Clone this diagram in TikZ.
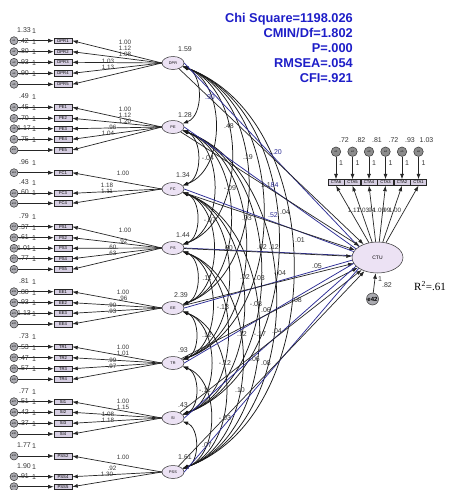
\documentclass[tikz,border=0pt]{standalone}
\usepackage{fontspec}
\setmainfont{Liberation Serif}
\setsansfont{Liberation Sans}
\usetikzlibrary{arrows.meta,shapes.geometric,calc}
\definecolor{fitblue}{RGB}{30,30,200}
\definecolor{pathblue}{RGB}{45,45,150}
\definecolor{latfill}{RGB}{236,226,244}
\definecolor{boxfill}{RGB}{214,206,226}
\definecolor{errfill}{RGB}{170,170,176}
\definecolor{numgray}{RGB}{55,55,55}
\begin{document}
\begin{tikzpicture}[x=1pt,y=-1pt,
 lat/.style={ellipse, draw=black!80, line width=0.5pt, fill=latfill, minimum width=22pt, minimum height=13pt, inner sep=0pt, font=\sffamily\fontsize{3.8}{4}\selectfont},
 obs/.style={rectangle, draw=black!85, line width=0.55pt, fill=boxfill, minimum width=18pt, minimum height=5.8pt, inner sep=0pt, font=\sffamily\fontsize{4.2}{4.2}\selectfont},
 ctaobs/.style={obs, minimum width=16pt},
 err/.style={circle, draw=black!80, line width=0.5pt, fill=errfill, minimum size=8pt, inner sep=0pt, font=\sffamily\fontsize{2.5}{2.5}\selectfont},
 arr/.style={-{Latex[length=5.5pt,width=4pt]}, line width=0.7pt, black!85},
 cov/.style={{Latex[length=5.5pt,width=4pt]}-{Latex[length=5.5pt,width=4pt]}, line width=0.75pt, black!90},
 bluepath/.style={line width=0.75pt, draw=pathblue},
 num/.style={font=\sffamily\fontsize{7}{7}\selectfont, text=numgray, inner sep=0pt},
 snum/.style={num, font=\sffamily\fontsize{6.3}{6.3}\selectfont},
 bnum/.style={num, text=pathblue},
 fit/.style={font=\sffamily\bfseries\fontsize{12.8}{15}\selectfont, text=fitblue, inner sep=0pt, anchor=base east}
]
\path[use as bounding box, fill=white] (0,0) rectangle (451,490);

% latent variables
\node[lat] (DPR) at (173,63) {DPR};
\node[lat] (PE) at (173,127) {PE};
\node[lat] (FC) at (173,189) {FC};
\node[lat] (PS) at (173,248) {PS};
\node[lat] (EE) at (173,308) {EE};
\node[lat] (TR) at (173,363) {TR};
\node[lat] (SI) at (173,418) {SI};
\node[lat] (PSS) at (173,472) {PSS};
\node[lat, minimum width=51pt, minimum height=31pt, font=\sffamily\fontsize{5}{5}\selectfont] (CTU) at (377.5,257.5) {CTU};
\node[err, minimum size=12pt, font=\sffamily\bfseries\fontsize{6}{6}\selectfont] (e42) at (372.5,299) {e42};

% indicators of the exogenous latents
\foreach \nm/\yy/\lt/\ev [count=\i] in {
 DPR1/40.7/DPR/1.33, DPR2/51.7/DPR/.42, DPR3/62.3/DPR/.80, DPR4/73.3/DPR/.93, DPR5/84.3/DPR/.90,
 PE1/107.3/PE/.49, PE2/118.3/PE/.45, PE3/128.7/PE/.70, PE4/139.3/PE/1.17, PE5/150/PE/.75,
 FC1/172.7/FC/.96, FC3/193.3/FC/.43, FC4/203.3/FC/.60,
 PS1/226.7/PS/.79, PS2/237.7/PS/.37, PS3/248.3/PS/.61, PS4/258.7/PS/1.01, PS5/269.3/PS/.77,
 EE1/291.7/EE/.81, EE2/302.7/EE/.80, EE3/313.3/EE/.93, EE4/324/EE/1.13,
 TR1/346.7/TR/.73, TR2/357.7/TR/.53, TR3/368.7/TR/.47, TR4/379.3/TR/.57,
 SI1/401.7/SI/.77, SI2/412.3/SI/.51, SI3/423.3/SI/.42, SI4/434/SI/.37,
 PSS2/456/PSS/1.77, PSS4/476.7/PSS/1.90, PSS5/486.7/PSS/.91}{
  \node[obs] (b\i) at (63,\yy) {\nm};
  \node[err] (e\i) at (14,\yy) {e\i};
  \draw[arr] (e\i) -- (b\i);
  \draw[arr] (\lt.west) -- (b\i.east);
  \node[num] at (34,\yy-10) {1};
  \node[num] at (24,\yy-11) {\ev};
}

% CTU indicators
\foreach \nm/\xx/\ev [count=\j] in {CTA6/336/.72, CTA5/352.5/.82, CTA4/369/.81, CTA3/385.5/.72, CTA2/402/.93, CTA1/418.5/1.03}{
  \node[ctaobs] (c\j) at (\xx,182.5) {\nm};
  \node[err, minimum size=9.5pt, fill=black!45] (ce\j) at (\xx,151.7) {e\j};
  \draw[arr] (ce\j) -- (c\j);
  \draw[arr] (CTU) -- (c\j.south);
  \node[num] at (\xx+8,140.5) {\ev};
  \node[num] at (\xx+5,163) {1};
}

% covariances
\foreach \a/\b in {DPR/PE, DPR/FC, DPR/PS, DPR/EE, DPR/TR, DPR/SI, DPR/PSS,
  PE/FC, PE/PS, PE/EE, PE/TR, PE/SI, PE/PSS,
  FC/PS, FC/EE, FC/TR, FC/SI, FC/PSS,
  PS/EE, PS/TR, PS/SI, PS/PSS,
  EE/TR, EE/SI, EE/PSS,
  TR/SI, TR/PSS,
  SI/PSS}{
  \draw[cov] (\a) to[bend left=70] (\b);
}

% structural paths
\foreach \l/\ang in {DPR/150, PE/158, FC/166, PS/176, EE/186, TR/194, SI/202, PSS/210}{
  \draw[bluepath] (\l.east) -- (CTU.\ang);
  \draw[arr] (\l) -- (CTU);
}
\draw[arr] (e42) -- (CTU);

% latent variances
\node[num] at (185,49) {1.59};
\node[num] at (185,115) {1.28};
\node[num] at (183,175) {1.34};
\node[num] at (183,235) {1.44};
\node[num] at (181,295) {2.39};
\node[num] at (183,350) {.93};
\node[num] at (183,405) {.43};
\node[num] at (185,457) {1.61};

% loadings
\node[snum] at (125,42) {1.00};
\node[snum] at (125,48) {1.12};
\node[snum] at (125,54) {1.08};
\node[snum] at (108,61) {1.03};
\node[snum] at (108,67) {1.13};
\node[snum] at (125,109) {1.00};
\node[snum] at (125,115) {1.12};
\node[snum] at (125,121) {1.20};
\node[snum] at (112,127) {.96};
\node[snum] at (108,133) {1.04};
\node[snum] at (123,173) {1.00};
\node[snum] at (107,185) {1.18};
\node[snum] at (107,191) {1.11};
\node[snum] at (125,230) {1.00};
\node[snum] at (123,241) {.92};
\node[snum] at (112,247) {.60};
\node[snum] at (112,253) {.63};
\node[snum] at (123,292) {1.00};
\node[snum] at (123,298) {.96};
\node[snum] at (112,305) {.90};
\node[snum] at (112,311) {.93};
\node[snum] at (123,347) {1.00};
\node[snum] at (123,353) {1.01};
\node[snum] at (112,360) {.99};
\node[snum] at (112,366) {.97};
\node[snum] at (123,401) {1.00};
\node[snum] at (123,407) {1.15};
\node[snum] at (108,414) {1.08};
\node[snum] at (108,420) {1.18};
\node[snum] at (123,457) {1.00};
\node[snum] at (112,468) {.92};
\node[snum] at (107,474) {1.30};

% CTU loadings
\node[snum] at (354,210) {1.17};
\node[snum] at (363,210) {1.03};
\node[snum] at (371,210) {.94};
\node[snum] at (379,210) {1.09};
\node[snum] at (386,210) {.99};
\node[snum] at (395,210) {1.00};
\node[num] at (380,279) {1};
\node[num] at (387,285) {.82};

% covariance and path labels
\node[bnum] at (210,97) {.90};
\node[num] at (229,126) {.48};
\node[num] at (248,157) {.19};
\node[bnum] at (277,152) {.20};
\node[num] at (208,158) {-.04};
\node[num, anchor=east] at (271,185) {1.1};
\node[bnum, anchor=west] at (270.5,185) {84};
\node[num] at (230,188) {-.09};
\node[bnum] at (273,215) {.52};
\node[num] at (285,212) {.04};
\node[num] at (210,220) {-.07};
\node[num] at (247,218) {.03};
\node[num] at (300,240) {.01};
\node[num] at (262,247) {.02};
\node[num] at (274,247) {.12};
\node[num] at (228,248) {.60};
\node[num] at (317,266) {.05};
\node[num] at (280,273) {-.04};
\node[num] at (260,278) {.03};
\node[num] at (245,277) {.02};
\node[num] at (207,278) {.11};
\node[num] at (297,300) {.08};
\node[num] at (223,307) {-.13};
\node[num] at (256,304) {-.08};
\node[num] at (266,310) {.06};
\node[num] at (207,335) {.12};
\node[num] at (242,334) {.12};
\node[num] at (260,334) {-.17};
\node[num] at (277,331) {.04};
\node[num] at (255,359) {.06};
\node[num] at (266,363) {.08};
\node[num] at (225,363) {-.12};
\node[num] at (205,390) {-.11};
\node[num] at (240,390) {.10};
\node[num] at (225,418) {-.03};
\node[num] at (207,445) {.07};

% fit indices
\node[fit] at (353,22.5) {Chi Square=1198.026};
\node[fit] at (353,37.5) {CMIN/Df=1.802};
\node[fit] at (353,52.5) {P=.000};
\node[fit] at (353,67.5) {RMSEA=.054};
\node[fit] at (353,82.5) {CFI=.921};

\node[anchor=west, inner sep=0pt, font=\fontsize{11}{11}\selectfont] at (414,286) {R\textsuperscript{2}=.61};
\end{tikzpicture}
\end{document}
